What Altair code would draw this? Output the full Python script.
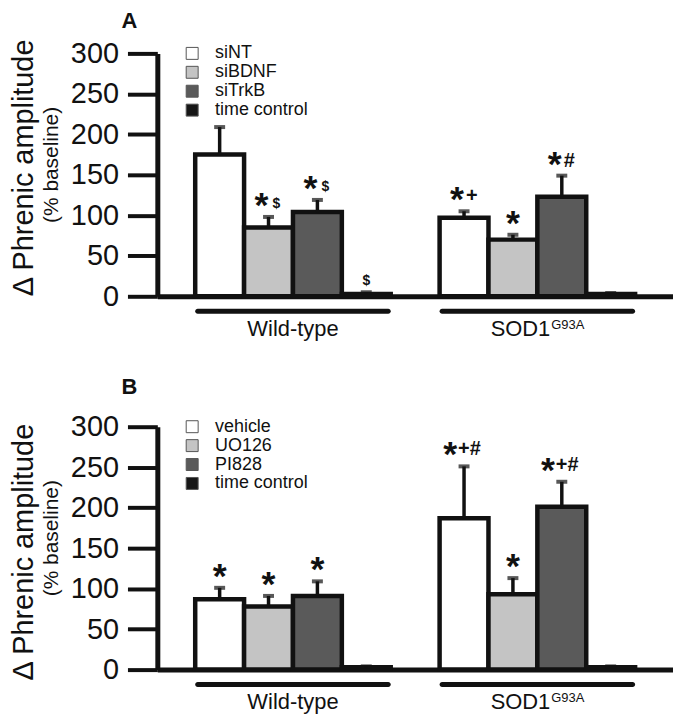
import altair as alt
import pandas as pd

FONT = "Liberation Sans"
INK = "#111111"

groups = ["Wild-type", "SOD1"]
group_main = ["Wild-type", "SOD1"]
group_sup = ["", "G93A"]
fills = ["#ffffff", "#c4c4c4", "#5a5a5a", "#161616"]

# Panel A
conds_a = ["siNT", "siBDNF", "siTrkB", "time control"]
means_a_wt = [175, 85, 104, 3]
tops_a_wt = [209, 98, 119, 5]
means_a_sod = [97, 70, 123, 3]
tops_a_sod = [105, 76, 149, 4]
stars_a_wt = ["", "*", "*", ""]
marks_a_wt = ["", "$", "$", "$"]
stars_a_sod = ["*", "*", "*", ""]
marks_a_sod = ["+", "", "#", ""]

# Panel B
conds_b = ["vehicle", "UO126", "PI828", "time control"]
means_b_wt = [87, 78, 91, 3]
tops_b_wt = [101, 91, 109, 4]
means_b_sod = [187, 93, 201, 3]
tops_b_sod = [251, 113, 232, 4]
stars_b_wt = ["*", "*", "*", ""]
marks_b_wt = ["", "", "", ""]
stars_b_sod = ["*", "*", "*", ""]
marks_b_sod = ["+#", "", "+#", ""]

y_ticks = [0, 50, 100, 150, 200, 250, 300]


def panel(conds, mw, tw, ms, ts, sw, kw, ss, ks, letter, title_y, sub_y, letter_y):
    rows = []
    for g, means, tops, stars, marks in [
        (groups[0], mw, tw, sw, kw),
        (groups[1], ms, ts, ss, ks),
    ]:
        for c, m, t, s, k in zip(conds, means, tops, stars, marks):
            rows.append(dict(group=g, cond=c, mean=m, top=t, star=s, mark=k))
    df = pd.DataFrame(rows)

    x_enc = alt.X(
        "group:N",
        scale=alt.Scale(domain=groups, paddingInner=0.2, paddingOuter=0.155),
        axis=alt.Axis(labels=False, ticks=False, title=None, domainWidth=5,
                      domainColor=INK, grid=False),
    )
    xo = alt.XOffset("cond:N", scale=alt.Scale(domain=conds, paddingInner=0, paddingOuter=0))
    y_scale = alt.Scale(domain=[0, 300], nice=False, zero=True)
    y_axis = alt.Axis(values=y_ticks, title=None, grid=False, domainWidth=5,
                      domainColor=INK, tickWidth=4, tickSize=30, tickColor=INK,
                      labelFontSize=29, labelFont=FONT, labelColor=INK,
                      labelPadding=9)

    base = alt.Chart(df)
    bars = base.mark_bar(stroke=INK, strokeWidth=4.5).encode(
        x=x_enc,
        xOffset=xo,
        y=alt.Y("mean:Q", scale=y_scale, axis=y_axis, stack=None),
        y2=alt.datum(0),
        fill=alt.Fill(
            "cond:N",
            scale=alt.Scale(domain=conds, range=fills),
            legend=alt.Legend(
                orient="none", legendX=26, legendY=-9, title=None,
                symbolType="square", symbolSize=144, symbolStrokeColor="#555555",
                symbolStrokeWidth=1, labelFontSize=18, labelFont=FONT,
                labelColor=INK, labelOffset=14, rowPadding=1,
            ),
        ),
    )
    err = base.mark_rule(strokeWidth=3.5, color=INK).encode(
        x=x_enc, xOffset=xo, y=alt.Y("mean:Q", scale=y_scale), y2="top:Q"
    )
    cap = base.mark_tick(thickness=4, size=11, color=INK).encode(
        x=x_enc, xOffset=xo, y=alt.Y("top:Q", scale=y_scale)
    )

    def txt(filt, text_field, dx, dy, size, align="center"):
        return base.transform_filter(filt).mark_text(
            font=FONT, fontWeight="bold", fontSize=size, dx=dx, dy=dy,
            align=align, baseline="alphabetic", color=INK,
        ).encode(x=x_enc, xOffset=xo, y=alt.Y("top:Q", scale=y_scale),
                 text=f"{text_field}:N")

    ann = [
        txt("datum.star != '' && datum.mark == ''", "star", 0, 0, 36),
        txt("datum.star != '' && (datum.mark == '$' || datum.mark == '+' || datum.mark == '#')",
            "star", -7, 0, 36),
        txt("datum.star != '' && datum.mark == '+#'", "star", -14, 0, 36),
        txt("datum.star != '' && datum.mark == '$'", "mark", 4, -9, 14, "left"),
        txt("datum.star != '' && (datum.mark == '+' || datum.mark == '#')", "mark", 2, -9, 20, "left"),
        txt("datum.star != '' && datum.mark == '+#'", "mark", -6, -11, 20, "left"),
        txt("datum.star == '' && datum.mark != ''", "mark", 0, -7, 14),
    ]

    gdf = pd.DataFrame({"group": groups, "main": group_main, "sup": group_sup})
    gbase = alt.Chart(gdf)
    glines = gbase.mark_bar(cornerRadius=2.5, color=INK).encode(
        x=x_enc, y=alt.value(256.5), y2=alt.value(261.5)
    )
    glab_plain = gbase.transform_filter("datum.sup == ''").mark_text(
        font=FONT, fontSize=22, color=INK, baseline="alphabetic"
    ).encode(x=x_enc, y=alt.value(284), text="main:N")
    glab_main = gbase.transform_filter("datum.sup != ''").mark_text(
        font=FONT, fontSize=22, color=INK, baseline="alphabetic", align="right", dx=13
    ).encode(x=x_enc, y=alt.value(284), text="main:N")
    glab_sup = gbase.transform_filter("datum.sup != ''").mark_text(
        font=FONT, fontSize=13, color=INK, baseline="alphabetic", align="left", dx=14
    ).encode(x=x_enc, y=alt.value(277), text="sup:N")

    ytitle = alt.Chart(pd.DataFrame({"t": ["\u0394 Phrenic amplitude"]})).mark_text(
        font=FONT, fontSize=29, angle=270, baseline="top", align="center", color=INK
    ).encode(x=alt.value(-148), y=alt.value(title_y), text="t:N")
    ysub = alt.Chart(pd.DataFrame({"t": ["(% baseline)"]})).mark_text(
        font=FONT, fontSize=21, angle=270, baseline="top", align="center", color=INK
    ).encode(x=alt.value(-117), y=alt.value(sub_y), text="t:N")
    plabel = alt.Chart(pd.DataFrame({"t": [letter]})).mark_text(
        font=FONT, fontSize=22, fontWeight="bold", align="left", baseline="alphabetic", color=INK
    ).encode(x=alt.value(-36), y=alt.value(letter_y), text="t:N")

    return alt.layer(
        bars, err, cap, *ann, glines, glab_plain, glab_main, glab_sup, ytitle, ysub, plabel
    ).properties(width=518, height=244)


pA = panel(conds_a, means_a_wt, tops_a_wt, means_a_sod, tops_a_sod,
           stars_a_wt, marks_a_wt, stars_a_sod, marks_a_sod, "A", 115, 112, -26)
pB = panel(conds_b, means_b_wt, tops_b_wt, means_b_sod, tops_b_sod,
           stars_b_wt, marks_b_wt, stars_b_sod, marks_b_sod, "B", 126, 112, -33)

chart = (
    alt.vconcat(pA, pB, spacing=36)
    .resolve_scale(fill="independent", xOffset="independent", x="independent", y="independent")
    .resolve_legend(fill="independent")
    .properties(padding={"left": 2, "top": 0, "right": 0, "bottom": 0}, background="white")
    .configure_view(stroke=None)
)

chart.save("out.html", embed_options={"renderer": "svg", "actions": False})
